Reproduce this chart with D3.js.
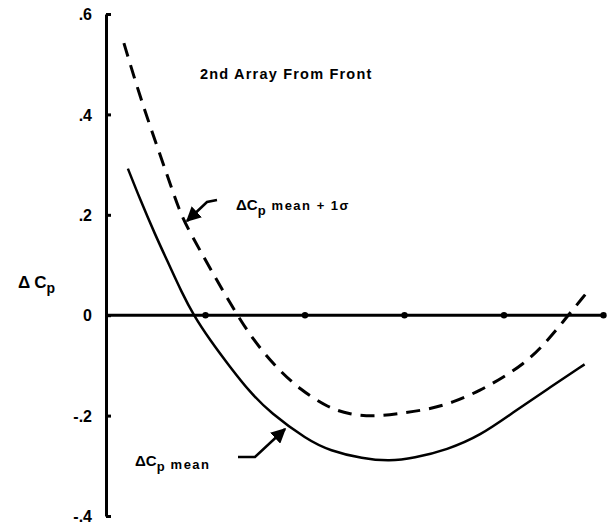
<!DOCTYPE html>
<html>
<head>
<meta charset="utf-8">
<script src="https://cdn.jsdelivr.net/npm/d3@7"></script>
<style>
  body { margin: 0; background: #fff; }
  text { font-family: "Liberation Sans", Arial, sans-serif; font-weight: bold; fill: #000; }
</style>
</head>
<body>
<svg id="chart" width="614" height="527"></svg>
<script>
// values
const yTicks = [-0.4, -0.2, 0, 0.2, 0.4, 0.6];
const yTickLabels = ['-.4', '-.2', '0', '.2', '.4', '.6'];
const xTicks = [1, 2, 3, 4, 5];

const meanX = [0.22, 0.34, 0.49, 0.64, 0.76, 0.88, 1.04, 1.25, 1.45, 1.65, 2.02, 2.25, 2.58, 2.85, 3.09, 3.43, 3.76, 4.09, 4.43, 4.81];
const meanY = [0.292, 0.232, 0.162, 0.098, 0.046, 0, -0.048, -0.104, -0.154, -0.194, -0.248, -0.27, -0.286, -0.291, -0.285, -0.268, -0.24, -0.194, -0.148, -0.098];

const sigmaX = [0.18, 0.31, 0.44, 0.61, 0.74, 0.84, 1.05, 1.27, 1.48, 1.72, 1.95, 2.23, 2.45, 2.70, 2.95, 3.23, 3.49, 3.76, 3.99, 4.19, 4.38, 4.59, 4.82];
const sigmaY = [0.542, 0.456, 0.378, 0.282, 0.206, 0.166, 0.092, 0.016, -0.05, -0.106, -0.148, -0.184, -0.198, -0.202, -0.196, -0.188, -0.174, -0.15, -0.124, -0.098, -0.064, -0.014, 0.042];

const svg = d3.select('#chart');

const xScale = d3.scaleLinear().domain([0, 5]).range([106, 603.5]);
const yScale = d3.scaleLinear().domain([-0.4, 0.6]).range([516, 14]);

// y axis
const yAxis = d3.axisRight(yScale).tickValues(yTicks).tickSize(5).tickFormat('').tickSizeOuter(0);
const gY = svg.append('g').attr('transform', `translate(${xScale(0)},0)`).call(yAxis);
gY.select('.domain').attr('stroke', '#000').attr('stroke-width', 3);
gY.selectAll('.tick line').attr('stroke', '#000').attr('stroke-width', 3);

gY.selectAll('.tick').append('text')
  .attr('x', -14)
  .attr('dy', '0.35em')
  .attr('text-anchor', 'end')
  .style('font-size', '16px')
  .text((d, i) => yTickLabels[i]);

// x axis along zero, dots as ticks
svg.append('line')
  .attr('x1', xScale(0)).attr('x2', xScale(5))
  .attr('y1', yScale(0)).attr('y2', yScale(0))
  .attr('stroke', '#000').attr('stroke-width', 3);

svg.selectAll('.xdot')
  .data(xTicks)
  .enter().append('circle')
  .attr('class', 'xdot')
  .attr('cx', d => xScale(d))
  .attr('cy', yScale(0))
  .attr('r', 3.2)
  .attr('fill', '#000');

// curves
const line = d3.line().curve(d3.curveBasis)
  .x(d => xScale(d[0]))
  .y(d => yScale(d[1]));

svg.append('path')
  .attr('d', line(d3.zip(meanX, meanY)))
  .attr('fill', 'none')
  .attr('stroke', '#000')
  .attr('stroke-width', 2.5);

svg.append('path')
  .attr('d', line(d3.zip(sigmaX, sigmaY)))
  .attr('fill', 'none')
  .attr('stroke', '#000')
  .attr('stroke-width', 3)
  .attr('stroke-dasharray', '14,9');

// labels
svg.append('text')
  .attr('x', 200).attr('y', 79)
  .style('font-size', '14.5px')
  .style('letter-spacing', '1.2px')
  .text('2nd Array From Front');

const yTitle = svg.append('text').attr('x', 18).attr('y', 288).style('font-size', '17px');
yTitle.append('tspan').text('Δ');
yTitle.append('tspan').attr('dx', 4).text('C');
yTitle.append('tspan').attr('dy', 5).style('font-size', '14px').text('p');

const t1 = svg.append('text').attr('x', 236).attr('y', 210).style('font-size', '15px');
t1.append('tspan').text('ΔC');
t1.append('tspan').attr('dy', 5).style('font-size', '13px').text('p');
t1.append('tspan').attr('dy', -5).attr('dx', 6).style('font-size', '13px').style('letter-spacing', '1.5px').text('mean + 1σ');

const t2 = svg.append('text').attr('x', 135).attr('y', 466).style('font-size', '15px');
t2.append('tspan').text('ΔC');
t2.append('tspan').attr('dy', 5).style('font-size', '13px').text('p');
t2.append('tspan').attr('dy', -2).attr('dx', 6).style('font-size', '13px').style('letter-spacing', '1.5px').text('mean');

// arrows
svg.append('defs').append('marker')
  .attr('id', 'head')
  .attr('viewBox', '0 0 10 10')
  .attr('refX', 9).attr('refY', 5)
  .attr('markerWidth', 6).attr('markerHeight', 6)
  .attr('orient', 'auto')
  .append('path').attr('d', 'M0,0L10,5L0,10z').attr('fill', '#000');

svg.append('path')
  .attr('d', 'M217,200 L207,202 L187,221')
  .attr('fill', 'none').attr('stroke', '#000').attr('stroke-width', 2.5)
  .attr('marker-end', 'url(#head)');

svg.append('path')
  .attr('d', 'M238,457 L255,457 L285,429')
  .attr('fill', 'none').attr('stroke', '#000').attr('stroke-width', 2.5)
  .attr('marker-end', 'url(#head)');
</script>
</body>
</html>
